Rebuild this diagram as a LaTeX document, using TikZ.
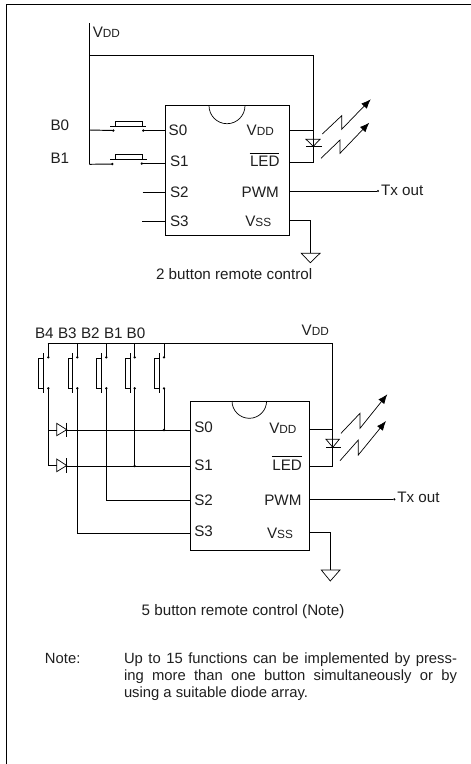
\documentclass[tikz,border=0pt]{standalone}
\usepackage{fontspec}
\usetikzlibrary{arrows.meta}
\setmainfont{Liberation Sans}
\tikzset{
  x=1pt,y=-1pt,
  wire/.style={line width=0.95pt,line cap=butt,line join=miter},
  thinwire/.style={line width=0.7pt,line join=miter},
  lbl/.style={inner sep=0pt,outer sep=0pt,anchor=base west,font=\fontsize{15.2}{17}\selectfont,text=black!88},
  dotn/.style={circle,fill=black,inner sep=0pt,minimum size=2.6pt},
  chip/.style={draw,line width=0.95pt,inner sep=0pt},
  light/.style={thinwire,-{Latex[length=9.5pt,width=7.5pt]}},
}
\newcommand{\smc}[2]{#1{\fontsize{11.8}{14}\selectfont #2}}
\begin{document}
\begin{tikzpicture}
\useasboundingbox (0,0) rectangle (471,764);
\fill[white] (0,0) rectangle (471,764);
% frame
\draw[wire] (6.5,764) -- (6.5,4.5) -- (471,4.5);

% ========== top circuit ==========
\node[chip,minimum width=124pt,minimum height=129.6pt] (c1) at (227.3,170.5) {};
\draw[thinwire] (209,105.7) arc[start angle=180,end angle=0,radius=18];
\node[lbl] (t-vdd) at (92.8,37) {\smc{V}{DD}};
\node[lbl] at (168.7,135) {S0};
\node[lbl] at (170,166.7) {S1};
\node[lbl] at (170,197.3) {S2};
\node[lbl] at (170,226) {S3};
\node[lbl] at (246.7,135) {\smc{V}{DD}};
\node[lbl] (t-led) at (250,166) {LED};
\node[lbl] at (241.7,197.3) {PWM};
\node[lbl] at (245.3,226) {\smc{V}{SS}};
\node[lbl] (t-tx) at (381,195.7) {Tx out};
\node[lbl] at (50.5,130) {B0};
\node[lbl] at (50.5,163) {B1};
\node[lbl] at (156,279) {2 button remote control};
\draw[line width=0.8pt] (249.5,153.3) -- (279,153.3);

\coordinate (vt) at (89.3,23);
\coordinate (vj) at (89.3,55.3);
\coordinate (vb) at (89.3,164.3);
\coordinate (rr) at (313.3,55.3);
\coordinate (rp) at (313.3,130);
\coordinate (lc) at (313.3,162.3);
\draw[wire] (vt) -- (vb);
\draw[wire] (vj) -- (rr) -- (lc) -- (c1.east |- lc);
\draw[wire] (c1.east |- rp) -- (rp);

% buttons of the top circuit
\node[dotn] (a0) at (113.3,130.5) {};
\node[dotn] (a1) at (143.3,130.5) {};
\node[dotn] (b0) at (112.3,164) {};
\node[dotn] (b1) at (141.8,163.5) {};
\draw[wire] (89.3,130) -- (a0.center);
\draw[wire] (a1.center) -- (c1.west |- a1);
\draw[wire] (vb) -- (b0.center);
\draw[wire] (b1.center) -- (c1.west |- b1);
\draw[wire] (110,126.7) -- (146,126.7);
\draw[wire] (115.3,126.7) -- (115.3,121.3) -- (142.7,121.3) -- (142.7,126.7);
\draw[wire] (110,159) -- (146.7,159);
\draw[wire] (115.3,159) -- (115.3,154.3) -- (142,154.3) -- (142,159);

\coordinate (s2) at (142.7,192);
\coordinate (s3) at (142,221.3);
\draw[wire] (s2) -- (c1.west |- s2);
\draw[wire] (s3) -- (c1.west |- s3);

\node[dotn,minimum size=2.4pt] (tx1) at (378,191) {};
\draw[wire] (c1.east |- tx1) -- (tx1);
\coordinate (g1a) at (310.3,220.3);
\coordinate (g1) at (310.3,253.3);
\draw[wire] (c1.east |- g1a) -- (g1a) -- (g1);
\draw[thinwire] (301.3,253.3) -- (320,253.3) -- (310.3,262.7) -- cycle;

% LED top
\draw[thinwire] (306,139.3) -- (320,139.3) -- (313.3,146.3) -- cycle;
\draw[wire] (306,146.3) -- (322,146.3);
\draw[light] (322.3,134) -- (341.7,115.7) -- (341.7,129.3) -- (370.7,99.3);
\draw[light] (321,158.3) -- (340,140) -- (340,153.3) -- (369.3,122.7);

% ========== bottom circuit ==========
\node[chip,minimum width=119pt,minimum height=149pt] (c2) at (249.8,475.5) {};
\draw[thinwire] (232,401) arc[start angle=180,end angle=0,radius=17.3];
\node[lbl] at (35,338) {B4};
\node[lbl] at (58,338) {B3};
\node[lbl] at (81,338) {B2};
\node[lbl] at (104,338) {B1};
\node[lbl] at (126.7,338) {B0};
\node[lbl] at (301.7,335) {\smc{V}{DD}};
\node[lbl] at (194.3,432.7) {S0};
\node[lbl] at (194.3,470) {S1};
\node[lbl] at (194.3,505) {S2};
\node[lbl] at (194.3,536.7) {S3};
\node[lbl] at (269.3,433.3) {\smc{V}{DD}};
\node[lbl] at (272.3,470) {LED};
\node[lbl] at (264.3,505) {PWM};
\node[lbl] at (267,538) {\smc{V}{SS}};
\node[lbl] at (397.3,502.7) {Tx out};
\node[lbl] at (141.7,615) {5 button remote control (Note)};
\draw[line width=0.8pt] (271.8,456.7) -- (302,456.7);

\coordinate (bl) at (47.7,343.7);
\coordinate (br) at (332.6,343.7);
\coordinate (bd) at (332.6,466);
\draw[wire] (bl) -- (br) -- (bd) -- (c2.east |- bd);
\coordinate (bv) at (332.6,429);
\draw[wire] (c2.east |- bv) -- (bv);

% five vertical buttons
\foreach \n/\cx/\bb/\bx/\yend in {1/48.3/43.3/38.3/465,2/77.3/72.3/68.3/533.3,3/106.3/101.3/96.3/500.3,4/134.7/130.3/125.7/466,5/164/159.3/154.7/430}{
  \node[dotn] (u\n) at (\cx,357.3) {};
  \node[dotn] (d\n) at (\cx,388.3) {};
  \draw[wire] (\cx,343.7) -- (u\n.center);
  \draw[wire] (d\n.center) -- (\cx,\yend);
  \draw[wire] (\bb,353.3) -- (\bb,392.7);
  \draw[wire] (\bb,358.3) -- (\bx,358.3) -- (\bx,388.3) -- (\bb,388.3);
}
\node[dotn] (j0) at (164,430) {};
\node[dotn] (j1) at (134.7,466) {};

% wires to the chip
\coordinate (k2) at (106.3,500.3);
\coordinate (k3) at (77.3,533.3);
\draw[wire] (k2) -- (c2.west |- k2);
\draw[wire] (k3) -- (c2.west |- k3);

% diodes
\coordinate (q0) at (66.7,430);
\coordinate (q1) at (66.7,466);
\draw[wire] (q0) -- (c2.west |- q0);
\draw[wire] (q1) -- (c2.west |- q1);
\draw[wire] (48.3,430) -- (56.7,430);
\draw[wire] (48.3,465) -- (56.7,465);
\draw[thinwire] (56.7,423.3) -- (66.7,429.7) -- (56.7,435.7) -- cycle;
\draw[thinwire] (56.7,459) -- (66.7,465.5) -- (56.7,471.7) -- cycle;
\draw[wire] (66.7,422.7) -- (66.7,436.7);
\draw[wire] (66.7,458) -- (66.7,473);

% right side
\node[dotn,minimum size=2.4pt] (tx2) at (394.3,499.3) {};
\draw[wire] (c2.east |- tx2) -- (tx2);
\coordinate (g2a) at (330.3,532.3);
\coordinate (g2) at (330.3,570);
\draw[wire] (c2.east |- g2a) -- (g2a) -- (g2);
\draw[thinwire] (321.3,570) -- (340,570) -- (330.3,581) -- cycle;

% LED bottom
\draw[thinwire] (326,439.3) -- (339.3,439.3) -- (332.8,447.3) -- cycle;
\draw[wire] (326,447.5) -- (341,447.5);
\draw[light] (341,433.3) -- (360,413.3) -- (360,428.3) -- (387.3,394.3);
\draw[light] (340,460.7) -- (358.3,440) -- (358.3,455) -- (386,421);

% note
\node[lbl,font=\fontsize{14.8}{17}\selectfont] (notel) at (45,663.3) {Note:};
\node[lbl,anchor=north west,text width=333pt,align=left,font=\fontsize{14.8}{16.9}\selectfont] (note) at (124,652.5) {%
\spaceskip=0.278em plus 1fil\relax
\leavevmode\hbox to 333pt{Up to 15 functions can be implemented by press-}\\
\leavevmode\hbox to 333pt{ing more than one button simultaneously or by}\\
\spaceskip=0pt\relax using a suitable diode array.};
\end{tikzpicture}
\end{document}
